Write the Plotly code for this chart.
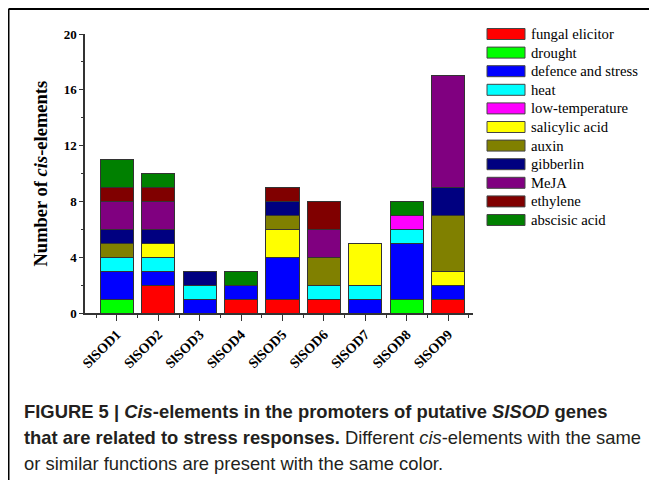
import plotly.graph_objects as go

categories = ["SlSOD1", "SlSOD2", "SlSOD3", "SlSOD4", "SlSOD5", "SlSOD6", "SlSOD7", "SlSOD8", "SlSOD9"]

fungal_elicitor    = [0, 2, 0, 1, 1, 1, 0, 0, 1]
drought            = [1, 0, 0, 0, 0, 0, 0, 1, 0]
defence_and_stress = [2, 1, 1, 1, 3, 0, 1, 4, 1]
heat               = [1, 1, 1, 0, 0, 1, 1, 1, 0]
low_temperature    = [0, 0, 0, 0, 0, 0, 0, 1, 0]
salicylic_acid     = [0, 1, 0, 0, 2, 0, 3, 0, 1]
auxin              = [1, 0, 0, 0, 1, 2, 0, 0, 4]
gibberlin          = [1, 1, 1, 0, 1, 0, 0, 0, 2]
meja               = [2, 2, 0, 0, 0, 2, 0, 0, 8]
ethylene           = [1, 1, 0, 0, 1, 2, 0, 0, 0]
abscisic_acid      = [2, 1, 0, 1, 0, 0, 0, 1, 0]

series_names = ["fungal elicitor", "drought", "defence and stress", "heat", "low-temperature",
                "salicylic acid", "auxin", "gibberlin", "MeJA", "ethylene", "abscisic acid"]
series_values = [fungal_elicitor, drought, defence_and_stress, heat, low_temperature,
                 salicylic_acid, auxin, gibberlin, meja, ethylene, abscisic_acid]
series_colors = ["#FF0000", "#00FF00", "#0000FF", "#00FFFF", "#FF00FF",
                 "#FFFF00", "#808000", "#000080", "#800080", "#800000", "#008000"]

y_ticks = [0, 4, 8, 12, 16, 20]

# page has an 8px body margin; work in window pixels and convert
OFF = 8
W, H = 657 - OFF, 487 - OFF
L, R, T, B = 85 - OFF, 473 - OFF, 34 - OFF, 313 - OFF

def px_x(px):
    return (px - OFF - L) / (R - L)

def px_y(py):
    return (B - (py - OFF)) / (B - T)

xpos = list(range(len(categories)))

fig = go.Figure()
for name, vals, col in zip(series_names, series_values, series_colors):
    fig.add_trace(go.Bar(
        x=xpos, y=vals, name=name, width=0.8,
        marker=dict(color=col, line=dict(color="#333333", width=1)),
        showlegend=False,
    ))

serif = "Times New Roman, Liberation Serif, serif"
sans = "Helvetica, Arial, Liberation Sans, sans-serif"

fig.update_layout(
    barmode="stack",
    width=W, height=H,
    margin=dict(l=L, r=W - R, t=T, b=H - B, autoexpand=False),
    plot_bgcolor="white", paper_bgcolor="white",
    xaxis=dict(
        range=[-0.77, 8.6], tickmode="array", tickvals=xpos, ticktext=categories,
        tickangle=-45, ticks="outside", ticklen=6, tickwidth=1, tickcolor="#333333",
        minor=dict(tickmode="linear", tick0=0.5, dtick=1, ticks="outside", ticklen=3, tickcolor="#333333"),
        showline=True, linecolor="#333333", linewidth=1.5, showgrid=False, zeroline=False,
        tickfont=dict(family=serif, size=14, color="black", weight="bold"),
        automargin=False,
    ),
    yaxis=dict(
        range=[0, 20], tickmode="array", tickvals=y_ticks,
        ticks="outside", ticklen=4, tickwidth=1, tickcolor="#333333",
        minor=dict(tickmode="linear", tick0=0, dtick=2, ticks="outside", ticklen=2, tickcolor="#333333"),
        showline=True, linecolor="#333333", linewidth=1.5, showgrid=False, zeroline=False,
        tickfont=dict(family=serif, size=13, color="black", weight="bold"),
        automargin=False,
    ),
)

shapes = []
annotations = []

# frame (top and left edges)
shapes.append(dict(type="line", xref="paper", yref="paper",
                   x0=px_x(8.5), x1=px_x(8.5), y0=px_y(9), y1=px_y(480),
                   line=dict(color="black", width=2)))
shapes.append(dict(type="line", xref="paper", yref="paper",
                   x0=px_x(8.5), x1=px_x(650), y0=px_y(9), y1=px_y(9),
                   line=dict(color="black", width=2)))

# y axis title
annotations.append(dict(
    text="Number of <i>cis</i>-elements", xref="paper", yref="paper",
    x=px_x(40), y=0.5, xanchor="center", yanchor="middle", textangle=-90,
    showarrow=False, font=dict(family=serif, size=18.5, color="black", weight="bold"),
))

# legend (manual)
for i, (name, col) in enumerate(zip(series_names, series_colors)):
    yc = 34 + 18.6 * i
    shapes.append(dict(
        type="rect", xref="paper", yref="paper",
        x0=px_x(487), x1=px_x(525), y0=px_y(yc + 5.5), y1=px_y(yc - 5.5),
        fillcolor=col, line=dict(color="#444444", width=1),
    ))
    annotations.append(dict(
        text=name, xref="paper", yref="paper", x=px_x(529), y=px_y(yc),
        xanchor="left", yanchor="middle", showarrow=False,
        font=dict(family=serif, size=14.7, color="black"),
    ))

caption_lines = [
    "<b>FIGURE 5 | <i>Cis</i>-elements in the promoters of putative <i>SlSOD</i> genes</b>",
    "<b>that are related to stress responses.</b> Different <i>cis</i>-elements with the same",
    "or similar functions are present with the same color.",
]
for i, line in enumerate(caption_lines):
    annotations.append(dict(
        text=line, xref="paper", yref="paper", x=px_x(22), y=px_y(411 + 26 * i),
        xanchor="left", yanchor="middle", showarrow=False,
        font=dict(family=sans, size=18.4, color="#231f20"),
    ))

fig.update_layout(shapes=shapes, annotations=annotations)
fig.write_html("out.html")
